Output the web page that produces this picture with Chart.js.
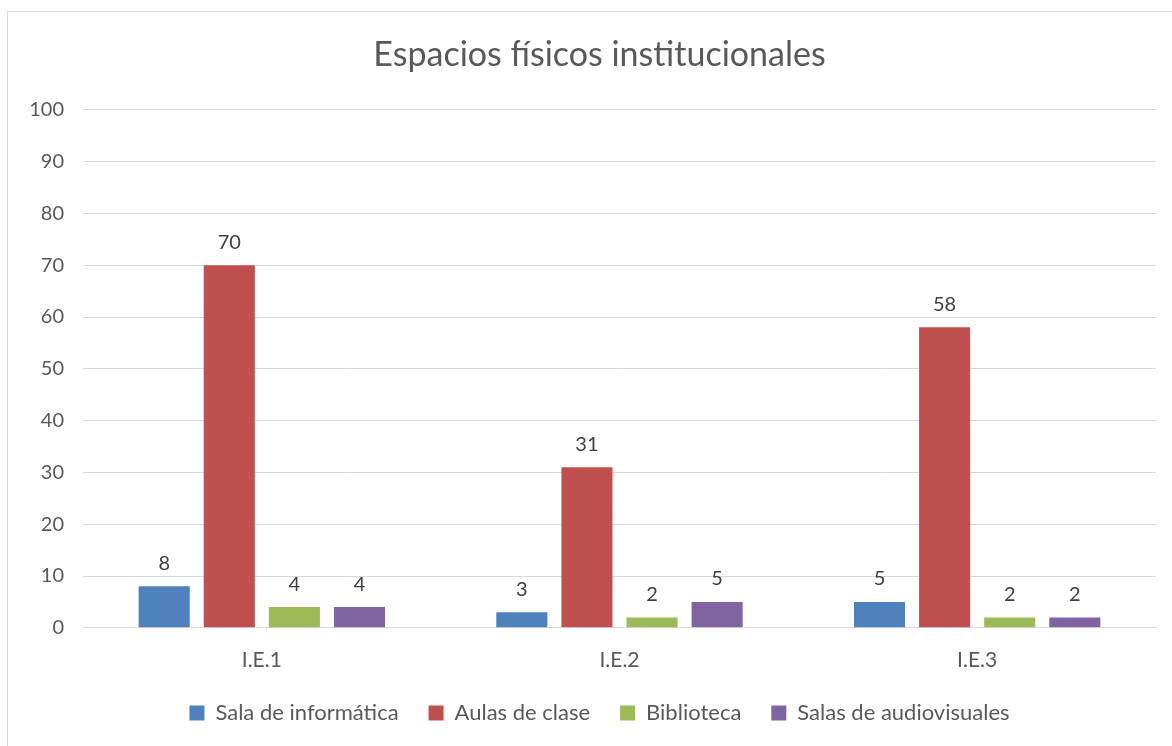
<!DOCTYPE html>
<html>
<head>
<meta charset="utf-8">
<script src="https://cdn.jsdelivr.net/npm/chart.js@4"></script>
<style>
  html, body { margin: 0; padding: 0; background: #fff; overflow: hidden; }
  #box {
    position: absolute; left: 7px; top: 11px;
    width: 1178px; height: 760px;
    border: 1px solid #d9d9d9; background: #fff;
  }
  #inner { position: relative; width: 1178px; height: 724px; }
</style>
</head>
<body>
<div id="box"><div id="inner"><canvas id="myChart"></canvas></div></div>
<script>
let categories = ['I.E.1', 'I.E.2', 'I.E.3'];

let seriesNames = [
    'Sala de informática',
    'Aulas de clase',
    'Biblioteca',
    'Salas de audiovisuales'
];

let salaInformatica = [8, 3, 5];
let aulasClase = [70, 31, 58];
let biblioteca = [4, 2, 2];
let salasAudiovisuales = [4, 5, 2];

let colors1 = ['#4F81BD', '#C0504D', '#9BBB59', '#8064A2'];

let yTicks = [0, 10, 20, 30, 40, 50, 60, 70, 80, 90, 100];

let font1 = 'Lato, "Open Sans", sans-serif';

// draws the numbers on top of each bar
const valueLabels = {
    id: 'valueLabels',
    afterDatasetsDraw(chart) {
        const ctx = chart.ctx;
        ctx.save();
        ctx.font = '20px ' + font1;
        ctx.fillStyle = '#404040';
        ctx.textAlign = 'center';
        ctx.textBaseline = 'bottom';
        chart.data.datasets.forEach((ds, i) => {
            chart.getDatasetMeta(i).data.forEach((bar, j) => {
                ctx.fillText(ds.data[j], bar.x, bar.y - 13);
            });
        });
        ctx.restore();
    }
};

let allSeries = [salaInformatica, aulasClase, biblioteca, salasAudiovisuales];

let myChart = document.getElementById('myChart').getContext('2d');

let chart = new Chart(myChart, {
    type: 'bar',
    data: {
        labels: categories,
        datasets: allSeries.map((d, i) => ({
            label: seriesNames[i],
            data: d,
            backgroundColor: colors1[i],
            categoryPercentage: 0.728,
            barPercentage: 0.785
        }))
    },
    options: {
        responsive: true,
        maintainAspectRatio: false,
        animation: false,
        layout: {
            padding: { left: 35, right: 30, top: 0, bottom: 2 }
        },
        scales: {
            x: {
                grid: { display: false, drawTicks: false },
                border: { color: '#d9d9d9' },
                ticks: { color: '#595959', font: { size: 21, family: font1 }, padding: 20 },
                afterFit: (axis) => { axis.height -= 21; }
            },
            y: {
                min: 0,
                max: 100,
                afterBuildTicks: (axis) => { axis.ticks = yTicks.map(v => ({ value: v })); },
                grid: { color: '#d9d9d9', drawTicks: false },
                border: { display: false },
                ticks: { color: '#595959', font: { size: 20, family: font1 }, padding: 19 },
                afterFit: (axis) => {
                    // narrow axis box, let the labels spill to the left
                    axis.width = 40;
                    axis._computeLabelArea = () => undefined;
                }
            }
        },
        plugins: {
            title: {
                display: true,
                text: 'Espacios físicos institucionales',
                color: '#595959',
                font: { size: 34, family: font1, weight: 'normal' },
                padding: { top: 23, bottom: 34 }
            },
            legend: {
                display: true,
                position: 'bottom',
                labels: {
                    color: '#595959',
                    font: { size: 22, family: font1 },
                    boxWidth: 15,
                    boxHeight: 15,
                    padding: 30
                }
            },
            tooltip: { enabled: false }
        }
    },
    plugins: [valueLabels]
});
</script>
</body>
</html>
